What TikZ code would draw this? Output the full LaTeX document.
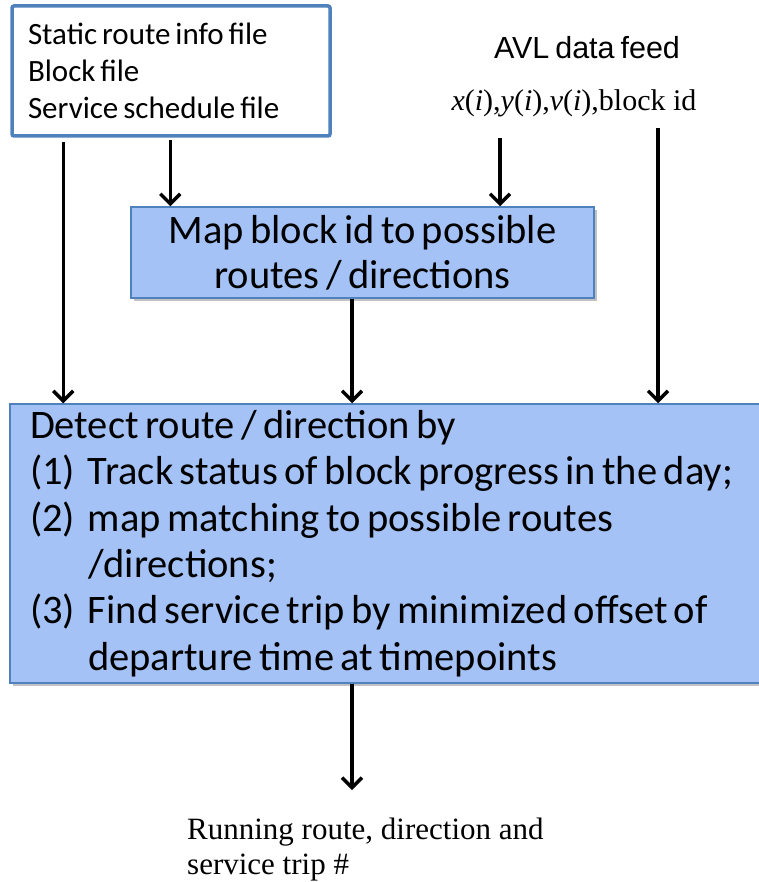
\documentclass[tikz,border=0pt]{standalone}
\usepackage{fontspec}
\setmainfont{Liberation Serif}
\newfontfamily\calibfont{Carlito}[WordSpace=0.7]
\newfontfamily\arialfont{Liberation Sans}[WordSpace=0.7]
\usepackage{xcolor}
\usetikzlibrary{arrows.meta,shadows}

\definecolor{boxblue}{RGB}{164,194,246}
\definecolor{edgeblue}{RGB}{79,129,189}

\begin{document}
\begin{tikzpicture}[x=1pt, y=-1pt,
  arr/.style={-{Straight Barb[length=10pt, width=20pt]}, line width=3.5pt},
  procbox/.style={draw=edgeblue, line width=1.5pt, fill=boxblue,
    drop shadow={shadow xshift=3pt, shadow yshift=-3pt, fill=black!60, opacity=0.4}}]
  \useasboundingbox (0,0) rectangle (759,882);

  % Inputs
  \node[draw=edgeblue, line width=3.5pt, rounded corners=2pt, fill=white,
        minimum width=318pt, minimum height=130pt, inner xsep=16pt, text width=286pt,
        align=flush left, font=\calibfont\fontsize{31}{37}\selectfont] (files) at (171,71)
    {Static route info file\\Block file\\Service schedule file};
  \node[font=\arialfont\fontsize{30.5}{36}\selectfont] (feed) at (587,48) {AVL data feed};
  \node[font=\fontsize{30}{36}\selectfont] (avldata) at (574,103)
    {\textit{x}(\textit{i}),\textit{y}(\textit{i}),\textit{v}(\textit{i}),block id};

  % Processing boxes
  \node[procbox, minimum width=463pt, minimum height=91pt, align=center,
        font=\calibfont\fontsize{40.5}{45}\selectfont] (map) at (362.5,252.5)
    {Map block id to possible\\routes / directions};
  \node[procbox, minimum width=750pt, minimum height=279pt, inner xsep=20pt, text width=710pt,
        align=flush left, font=\calibfont\fontsize{40.5}{46.3}\selectfont] (det) at (385,543.5)
    {Detect route / direction by\\
     \makebox[58pt][l]{(1)}Track status of block progress in the day;\\
     \makebox[58pt][l]{(2)}map matching to possible routes\\
     \hspace*{58pt}/directions;\\
     \makebox[58pt][l]{(3)}Find service trip by minimized offset of\\
     \hspace*{58pt}departure time at timepoints};

  % Output
  \node[anchor=north west, inner sep=0pt, align=flush left, font=\fontsize{31}{35}\selectfont] (result) at (187,818)
    {Running route, direction and\\service trip \#};

  % Connectors
  \coordinate (din) at (500,138);
  \coordinate (bin) at (658,128);
  \coordinate (outtip) at (352,790);
  \draw[arr] ([xshift=53pt, yshift=-4pt]files.south west) -- ([xshift=53pt]files.south west |- det.north);
  \draw[arr] ([xshift=160pt, yshift=-2pt]files.south west) -- ([xshift=160pt]files.south west |- map.north);
  \draw[arr] (din) -- (din |- map.north);
  \draw[arr] (bin) -- (bin |- det.north);
  \draw[arr] ([xshift=-10.5pt]map.south) -- ([xshift=-10.5pt]map.south |- det.north);
  \draw[arr] ([xshift=-33pt]det.south) -- (outtip);
\end{tikzpicture}
\end{document}
